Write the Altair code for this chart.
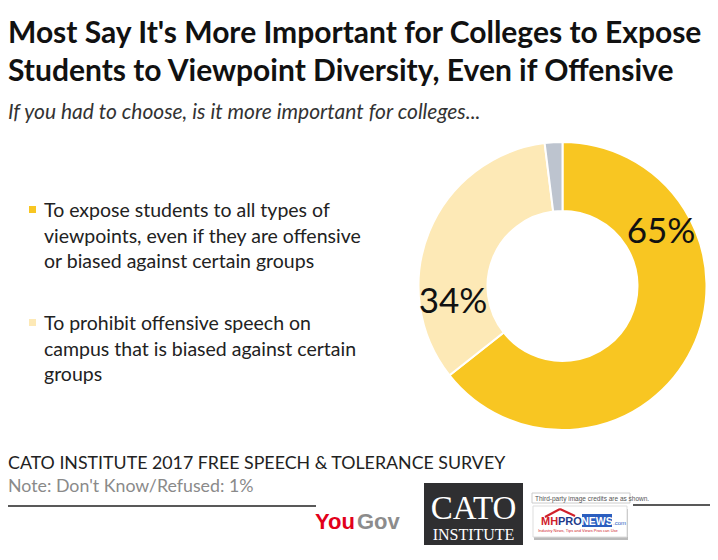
import altair as alt
import pandas as pd

# ---------------- data ----------------
categories = [
    "To expose students to all types of viewpoints, even if they are offensive or biased against certain groups",
    "To prohibit offensive speech on campus that is biased against certain groups",
    "Don't know/Refused",
]
values = [65, 34, 2]
colors = ["#F8C622", "#FDE9B6", "#BDC4CF"]
slice_labels = ["65%", "34%"]
legend_lines = [
    ["To expose students to all types of", "viewpoints, even if they are offensive", "or biased against certain groups"],
    ["To prohibit offensive speech on", "campus that is biased against certain", "groups"],
]
title_lines = [
    "Most Say It's More Important for Colleges to Expose",
    "Students to Viewpoint Diversity, Even if Offensive",
]
subtitle = "If you had to choose, is it more important for colleges..."
source = "CATO INSTITUTE 2017 FREE SPEECH & TOLERANCE SURVEY"
note = "Note: Don't Know/Refused: 1%"

OFF = 8  # page margin; image coords -> plot coords
W, H = 702, 544
one = alt.Data(values=[{"k": 1}])


def px(v):
    return alt.value(v - OFF)


def text(t, x, y, size, color="#222", font="Lato", align="left", weight="normal", style="normal", **kw):
    return alt.Chart(one).mark_text(
        text=t, align=align, baseline="alphabetic", fontSize=size, font=font,
        fontWeight=weight, fontStyle=style, color=color, **kw
    ).encode(x=px(x), y=px(y))


def rect(x1, y1, x2, y2, fill, stroke=None, sw=0):
    kw = dict(fill=fill)
    if stroke:
        kw.update(stroke=stroke, strokeWidth=sw)
    return alt.Chart(one).mark_rect(**kw).encode(x=px(x1), x2=px(x2), y=px(y1), y2=px(y2))


def rule(x1, y1, x2, y2, color, sw):
    return alt.Chart(one).mark_rule(color=color, strokeWidth=sw).encode(
        x=px(x1), x2=px(x2), y=px(y1), y2=px(y2))


layers = []

# top rule
layers.append(rule(0, 3, 705, 3, "#444444", 2))

# title + subtitle
layers.append(text(title_lines[0], 8, 43, 30, "#111111", weight="bold"))
layers.append(text(title_lines[1], 8, 81, 30, "#111111", weight="bold"))
layers.append(text(subtitle, 8, 119, 21, "#333333", style="italic"))

# donut
df = pd.DataFrame({"category": categories, "value": values, "order": list(range(len(values)))})
cx, cy = 562.5, 286
arc = alt.Chart(df).mark_arc(radius=144, innerRadius=75, stroke="white", strokeWidth=2).encode(
    theta=alt.Theta("value:Q", stack=True),
    order=alt.Order("order:Q"),
    color=alt.Color("category:N", scale=alt.Scale(domain=categories, range=colors), legend=None),
    x=px(cx),
    y=px(cy),
)
layers.append(arc)

# slice labels
layers.append(text(slice_labels[0], 661, 243, 35, "#111111", align="center"))
layers.append(text(slice_labels[1], 453, 313, 35, "#111111", align="center"))

# legend (manual)
legend_y = [206, 319]
for i, lines in enumerate(legend_lines):
    y0 = legend_y[i]
    layers.append(rect(29, y0, 36, y0 + 7, colors[i]))
    layers.append(
        alt.Chart(one).mark_text(
            text="\n".join(lines), lineBreak="\n", lineHeight=25.5, align="left",
            baseline="alphabetic", fontSize=19.5, font="Lato", color="#222222"
        ).encode(x=px(44), y=px(y0 + 11))
    )

# footer
layers.append(text(source, 8, 469, 17.8, "#222222"))
layers.append(text(note, 8, 492, 17.8, "#8A8A8A"))
layers.append(rule(0, 506, 316, 506, "#222222", 1.5))
layers.append(rule(633, 505, 718, 505, "#222222", 1.5))

# YouGov logo
layers.append(text("You", 315, 529, 22, "#E2001A", font="Liberation Sans", weight="bold"))
layers.append(text("Gov", 357, 529, 22, "#8C8C8C", font="Liberation Sans", weight="bold"))

# CATO logo
layers.append(rect(424, 483, 523, 545, "#2F2F31"))
layers.append(text("CATO", 473.5, 519, 33, "white", font="Liberation Serif", align="center"))
layers.append(text("INSTITUTE", 473.5, 540, 16, "white", font="Liberation Serif", align="center"))

# MHProNews badge
layers.append(rect(532, 493, 630, 503, "white", "#CCCCCC", 1))
layers.append(text("Third-party image credits are as shown.", 535, 500.5, 6.5, "#555555", font="Liberation Sans"))
layers.append(rect(534, 509, 628, 540, "#BBBBBB"))
layers.append(rect(533, 506, 627, 537, "white", "#DDDDDD", 1))
layers.append(rule(545, 517, 560, 509, "#D0202A", 2))
layers.append(rule(560, 509, 575, 516, "#D0202A", 2))
layers.append(text("MH", 541, 525, 11, "#D0202A", font="Liberation Sans", weight="bold"))
layers.append(text("PRO", 558, 525, 11, "#1D3A8A", font="Liberation Sans", weight="bold"))
layers.append(rect(582, 514, 612, 527, "#2B5EBF"))
layers.append(text("NEWS", 597, 525, 10.5, "white", font="Liberation Sans", weight="bold", align="center"))
layers.append(text(".com", 613, 525, 6, "#2B5EBF", font="Liberation Sans"))
layers.append(text("Industry News, Tips and Views Pros can Use", 578, 532, 4, "#D0202A", font="Liberation Sans", align="center"))

chart = alt.layer(*layers).properties(
    width=W, height=H, padding=0, autosize=alt.AutoSizeParams(type="none"), background="white"
).configure_view(strokeWidth=0)

chart.save("out.html", embed_options={"renderer": "svg", "actions": False})
